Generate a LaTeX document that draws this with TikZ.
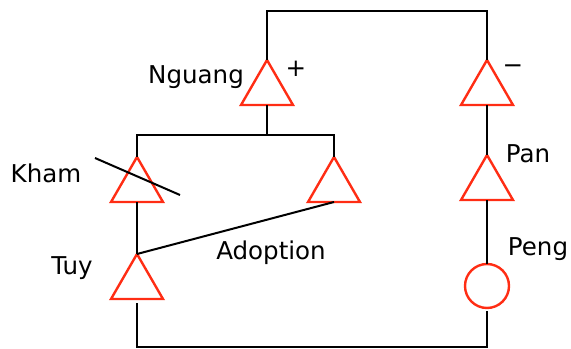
\documentclass[tikz,border=0pt]{standalone}
\usepackage{fontspec}
\setmainfont{DejaVu Sans}
\usetikzlibrary{shapes.geometric}
\definecolor{trired}{RGB}{255,45,20}

\begin{document}
\begin{tikzpicture}[x=0.75pt,y=-0.75pt,
    tri/.style={regular polygon, regular polygon sides=3, draw=trired, line width=1.8pt,
      minimum size=45pt, inner sep=0pt, outer sep=0pt},
    ring/.style={circle, draw=trired, line width=1.8pt, minimum size=33pt, inner sep=0pt, outer sep=0pt},
    wire/.style={line width=1.5pt},
    lbl/.style={anchor=base, inner sep=0pt, font=\fontsize{18.4}{22}\selectfont}]
  \useasboundingbox (0,0) rectangle (571,349);

  % triangles and ring
  \node[tri] (nguang) at (267,90) {};
  \node[tri] (neg) at (487,90) {};
  \node[tri] (kham) at (137,187) {};
  \node[tri] (adopt) at (334,187) {};
  \node[tri] (tuy) at (137,284) {};
  \node[tri] (pan) at (487,185) {};
  \node[ring] (peng) at (487,286) {};

  \coordinate (top) at (378,11);
  \coordinate (bus) at (267,135);
  \coordinate (bottom) at (312,347);

  % wires
  \draw[wire] (nguang.north) -- (nguang.north |- top) -- (neg.north |- top) -- (neg.north);
  \draw[wire] (nguang.south) -- (bus);
  \draw[wire] (kham.north) |- (bus) -| (adopt.north);
  \draw[wire] (kham.south) -- (tuy.north);
  \draw[wire] (tuy.north) -- (adopt.south);
  \draw[wire] (neg.south) -- (pan.north);
  \draw[wire] (pan.south) -- (peng.north);
  \draw[wire, shorten <=3pt, shorten >=2pt] (tuy.south) |- (bottom) -| (peng.south);

  % strike through Kham
  \draw[wire] (95,158) -- (180,195);

  % labels
  \node[lbl] (nguanglbl) at (196,84) {Nguang};
  \node[lbl] (khamlbl) at (46,183) {Kham};
  \node[lbl] (tuylbl) at (72,274) {Tuy};
  \node[lbl] (adoptlbl) at (271,259) {Adoption};
  \node[lbl] (panlbl) at (528,163) {Pan};
  \node[lbl] (penglbl) at (538,255) {Peng};
  \node[lbl, anchor=center] (plus) at (296,69) {+};
  \node[lbl, anchor=center] (minus) at (513,69) {−};
\end{tikzpicture}
\end{document}
